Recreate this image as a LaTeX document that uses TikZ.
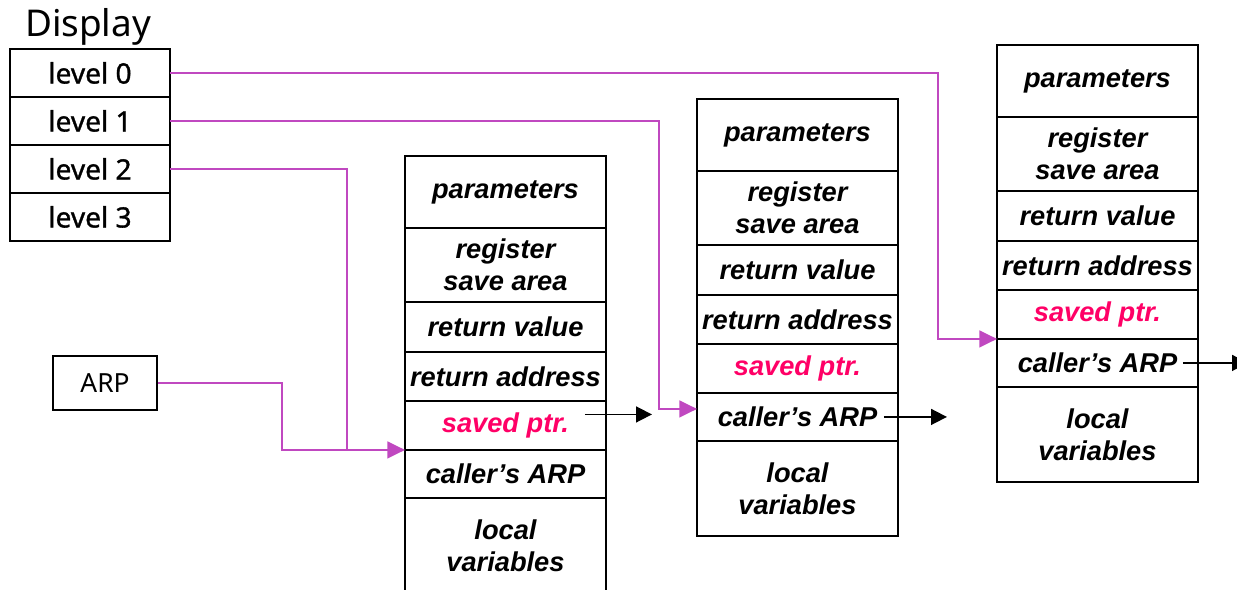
\documentclass[tikz,border=0pt]{standalone}
\usepackage{fontspec}
\setmainfont{Liberation Sans}
\newfontfamily\lvlfont{Noto Sans}[FakeBold=1.2]
\newfontfamily\dispfont{Noto Sans}
\usetikzlibrary{arrows.meta}
\definecolor{linkpink}{RGB}{192,72,192}
\definecolor{savedred}{RGB}{255,0,102}

\tikzset{
  cell/.style={draw, line width=1.3pt, minimum width=4.02cm, inner sep=0pt, outer sep=0pt, align=center, font=\fontsize{15.5}{18.2}\selectfont\bfseries\itshape},
  lvl/.style={draw, line width=1.3pt, minimum width=3.2cm, minimum height=0.96cm, inner sep=0pt, outer sep=0pt, font=\lvlfont\fontsize{16}{19}\selectfont},
  link/.style={linkpink, line width=1.1pt},
  ptr/.style={line width=1pt, -{Triangle[length=9pt,width=9pt]}},
}

\begin{document}
\begin{tikzpicture}[x=0.02cm,y=-0.02cm]
			\useasboundingbox (0,0) rectangle (1237,590);
			\clip (0,0) rectangle (1237,590);
			% display
			\node[font=\dispfont\fontsize{21}{26}\selectfont] (disp) at (88,27) {Display};
			\node[lvl, anchor=north west] (lv0) at (10,49) {level 0};
			\node[lvl, anchor=north] (lv1) at (lv0.south) {level 1};
			\node[lvl, anchor=north] (lv2) at (lv1.south) {level 2};
			\node[lvl, anchor=north] (lv3) at (lv2.south) {level 3};
			\node[draw, line width=1pt, minimum width=2.08cm, minimum height=1.08cm, font=\dispfont\fontsize{15}{17}\selectfont] (arp) at (105,383) {ARP};
			% activation records
			\foreach \s/\x/\y in {a/405/156, b/697/99, c/997/45} {
				\node[cell, minimum height=1.44cm, anchor=north west] (\s1) at (\x,\y) {parameters};
				\node[cell, minimum height=1.48cm, anchor=north] (\s2) at (\s1.south) {register\\save area};
				\node[cell, minimum height=1cm, anchor=north] (\s3) at (\s2.south) {return value};
				\node[cell, minimum height=0.98cm, anchor=north] (\s4) at (\s3.south) {return address};
				\node[cell, minimum height=0.98cm, anchor=north, text=savedred] (\s5) at (\s4.south) {saved ptr.};
				\node[cell, minimum height=0.96cm, anchor=north] (\s6) at (\s5.south) {caller’s ARP};
				\node[cell, minimum height=1.9cm, anchor=north] (\s7) at (\s6.south) {local\\variables};
			}
			% display links
			\draw[link, -{Triangle[length=10pt,width=9.5pt]}] (lv0.east) -- ++(768,0) |- (c5.south west);
			\draw[link, -{Triangle[length=10pt,width=9.5pt]}] (lv1.east) -- ++(489,0) |- ([yshift=-0.32cm]b6.north west);
			\coordinate (join) at ([xshift=-1.16cm]a6.north west);
			\draw[link] (lv2.east) -| (join);
			\draw[link, -{Triangle[length=10pt,width=9.5pt]}] (arp.east) -- ++(124,0) |- (a6.north west);
			% caller pointers
			\draw[ptr] ([xshift=-0.42cm,yshift=0.22cm]a5.east) -- ++(1.34cm,0);
			\draw[ptr] ([xshift=-0.28cm]b6.east) -- ++(1.26cm,0);
			\draw[ptr] ([xshift=-0.3cm]c6.east) -- ++(1.3cm,0);
		\end{tikzpicture}
\end{document}
